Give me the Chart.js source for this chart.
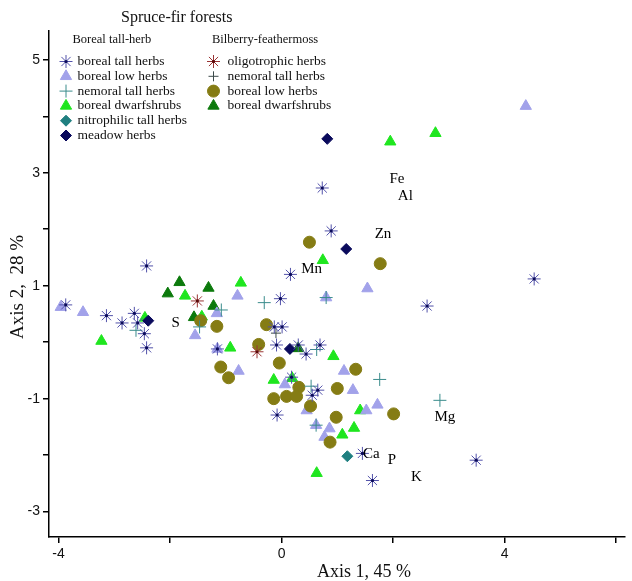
<!DOCTYPE html>
<html><head><meta charset="utf-8">
<script src="https://cdn.jsdelivr.net/npm/chart.js@4"></script>
<style>html,body{margin:0;padding:0;background:#fff}#wrap{width:632px;height:581px}</style>
</head><body><div id="wrap"><canvas id="c" width="632" height="581"></canvas></div>
<script>
// ---------- DATA ----------
const chartTitle = 'Spruce-fir forests';
const groupNames = ['Boreal tall-herb', 'Bilberry-feathermoss'];
const xTickLabels = [-4, 0, 4];
const yTickLabels = [-3, -1, 1, 3, 5];
const xAxisTitle = 'Axis 1, 45 %';
const yAxisTitle = 'Axis 2,  28 %';

// Boreal tall-herb group
const btTallHerbs = [[-3.87,0.66],[-3.14,0.47],[-2.86,0.34],[-2.64,0.51],[-2.58,0.34],[-2.46,0.15],[-2.42,1.35],[-2.42,-0.10],[0.16,1.20],[-0.02,0.77],[-0.13,0.27],[0.01,0.27],[-0.09,-0.05],[-1.15,-0.12],[0.30,-0.05],[0.44,-0.21],[0.69,-0.05],[0.18,-0.62],[0.65,-0.85],[0.55,-0.94],[-0.08,-1.29],[1.45,-1.97],[1.63,-2.45],[0.73,2.73],[0.89,1.97],[4.53,1.12],[2.61,0.64],[3.49,-2.09]];
const btLowHerbs = [[-3.96,0.62],[-3.56,0.53],[-0.79,0.82],[-1.16,0.51],[-1.55,0.12],[-1.15,-0.12],[-0.77,-0.51],[0.06,-0.75],[1.12,-0.51],[1.28,-0.85],[0.45,-1.21],[1.72,-1.11],[1.52,-1.21],[0.62,-1.47],[0.86,-1.53],[0.77,-1.68],[4.38,4.18],[1.54,0.95],[0.80,0.79]];
const btNemoral = [[-2.61,0.21],[-1.08,0.57],[-0.31,0.70],[0.63,-0.13],[1.76,-0.66],[0.53,-0.78],[0.62,-1.47],[2.84,-1.03],[0.80,0.79],[-1.47,0.27]];
const btDwarfshrubs = [[-3.23,0.02],[-2.45,0.43],[-1.73,0.82],[-1.43,0.45],[-0.73,1.05],[-0.92,-0.10],[-0.14,-0.67],[0.19,-0.64],[0.93,-0.25],[1.41,-1.21],[1.30,-1.52],[1.09,-1.64],[0.63,-2.32],[1.95,3.55],[2.76,3.70],[0.74,1.45]];
const btNitrophilic = [[1.18,-2.02]];
const btMeadow = [[-2.39,0.38],[0.15,-0.12],[0.82,3.60],[1.16,1.65]];
// Bilberry-feathermoss group
const bfOligotrophic = [[-1.51,0.73],[-0.44,-0.17]];
const bfNemoral = [[-0.10,0.16]];
const bfLowHerbs = [[-1.45,0.38],[-1.16,0.28],[-0.27,0.31],[-0.41,-0.04],[-1.09,-0.44],[-0.95,-0.63],[-0.04,-0.37],[1.33,-0.48],[0.31,-0.80],[1.00,-0.82],[-0.14,-1.00],[0.09,-0.96],[0.27,-0.96],[0.52,-1.13],[2.01,-1.27],[0.98,-1.33],[0.87,-1.77],[0.50,1.77],[1.77,1.39]];
const bfDwarfshrubs = [[-2.04,0.86],[-1.83,1.06],[-1.31,0.96],[-1.22,0.64],[-1.57,0.44],[0.30,-0.11]];

// Element labels
const elementNames = ['S','Mn','Zn','Fe','Al','Ca','P','K','Mg'];
const elementX = [-1.90, 0.54, 1.82, 2.07, 2.22, 1.61, 1.98, 2.42, 2.93];
const elementY = [0.33, 1.30, 1.91, 2.88, 2.58, -1.99, -2.08, -2.38, -1.32];

// ---------- STYLES ----------
const S = {
  tallStar:  {label:'boreal tall herbs', data:btTallHerbs, pointStyle:'star', radius:6.5, color:'#5252aa', fill:'#5252aa', bw:1, dot:'#0b0b5a', group:0, row:0},
  lowTri:    {label:'boreal low herbs', data:btLowHerbs, pointStyle:'triangle', radius:6.5, color:'#a2a2ea', fill:'#a2a2ea', bw:1, group:0, row:1},
  nemPlus:   {label:'nemoral tall herbs', data:btNemoral, pointStyle:'cross', radius:6.5, color:'#3a8c8c', fill:'#3a8c8c', bw:1, group:0, row:2},
  dwarfTri:  {label:'boreal dwarfshrubs', data:btDwarfshrubs, pointStyle:'triangle', radius:6.5, color:'#1fe61f', fill:'#1fe61f', bw:1, group:0, row:3},
  nitroDia:  {label:'nitrophilic tall herbs', data:btNitrophilic, pointStyle:'rectRot', radius:5.5, color:'#1f7f80', fill:'#1f7f80', bw:1, group:0, row:4},
  meadowDia: {label:'meadow herbs', data:btMeadow, pointStyle:'rectRot', radius:5.5, color:'#0a0a5c', fill:'#0a0a5c', bw:1, group:0, row:5},
  oligStar:  {label:'oligotrophic herbs', data:bfOligotrophic, pointStyle:'star', radius:6.5, color:'#9a3434', fill:'#9a3434', bw:1, dot:'#5a0a0a', group:1, row:0},
  bNemPlus:  {label:'nemoral tall herbs', data:bfNemoral, pointStyle:'cross', radius:5, color:'#3c4a4a', fill:'#3c4a4a', bw:1, group:1, row:1},
  bLowCirc:  {label:'boreal low herbs', data:bfLowHerbs, pointStyle:'circle', radius:6, color:'#857c14', fill:'#857c14', bw:1, group:1, row:2},
  bDwarfTri: {label:'boreal dwarfshrubs', data:bfDwarfshrubs, pointStyle:'triangle', radius:6.5, color:'#0c7a0c', fill:'#0c7a0c', bw:1, group:1, row:3}
};
// drawing order: first listed is drawn on top
const drawOrder = ['tallStar','oligStar','nemPlus','bNemPlus','meadowDia','nitroDia','bLowCirc','lowTri','bDwarfTri','dwarfTri'];

const toPts = a => a.map(([x, y]) => ({x, y}));
const datasets = [];
drawOrder.forEach(k => {
  const s = S[k];
  if (s.dot) {
    datasets.push({label: s.label + ' centre', data: toPts(s.data), pointStyle: 'circle', pointRadius: 1.6,
      backgroundColor: s.dot, borderColor: s.dot, borderWidth: 0, showLine: false});
  }
  datasets.push({label: s.label, data: toPts(s.data), pointStyle: s.pointStyle, pointRadius: s.radius,
    backgroundColor: s.fill, borderColor: s.color, borderWidth: s.bw, showLine: false});
});

const SERIF = '"Liberation Serif", "Times New Roman", serif';
const SANS = '"Liberation Sans", Arial, sans-serif';

function marker(ctx, s, x, y) {
  ctx.save();
  ctx.fillStyle = s.fill; ctx.strokeStyle = s.color; ctx.lineWidth = s.bw;
  Chart.helpers.drawPoint(ctx, {pointStyle: s.pointStyle, radius: s.radius, rotation: 0, borderWidth: s.bw}, x, y);
  if (s.dot) {
    ctx.fillStyle = s.dot; ctx.strokeStyle = s.dot;
    Chart.helpers.drawPoint(ctx, {pointStyle: 'circle', radius: 1.6, rotation: 0, borderWidth: 0}, x, y);
  }
  ctx.restore();
}

const annot = {
  id: 'annot',
  afterDatasetsDraw(chart) {
    const ctx = chart.ctx, xs = chart.scales.x, ys = chart.scales.y;
    ctx.save();
    ctx.fillStyle = '#000';
    ctx.font = '15px ' + SERIF;
    ctx.textAlign = 'center'; ctx.textBaseline = 'middle';
    elementNames.forEach((n, i) => ctx.fillText(n, xs.getPixelForValue(elementX[i]), ys.getPixelForValue(elementY[i])));
    ctx.restore();
  },
  afterDraw(chart) {
    const ctx = chart.ctx;
    ctx.save();
    ctx.fillStyle = '#111';
    ctx.textBaseline = 'middle'; ctx.textAlign = 'left';
    ctx.font = '16px ' + SERIF;
    ctx.fillText(chartTitle, 121, 18);
    ctx.font = '12.5px ' + SERIF;
    ctx.fillText(groupNames[0], 72.5, 40);
    ctx.fillText(groupNames[1], 212, 40);
    const colMarker = [66, 213.5], colText = [77.5, 227.5], rowY0 = 61.5, rowStep = 14.8;
    ctx.font = '13.5px ' + SERIF;
    Object.values(S).forEach(s => {
      const y = rowY0 + s.row * rowStep;
      marker(ctx, s, colMarker[s.group], y);
      ctx.fillStyle = '#111';
      ctx.fillText(s.label, colText[s.group], y);
    });
    // axis titles
    ctx.textAlign = 'center';
    ctx.font = '18px ' + SERIF;
    ctx.fillText(xAxisTitle, 364, 572);
    ctx.translate(18, 287);
    ctx.rotate(-Math.PI / 2);
    ctx.font = '19px ' + SERIF;
    ctx.fillText(yAxisTitle, 0, 0);
    ctx.restore();
  }
};

new Chart(document.getElementById('c'), {
  type: 'scatter',
  data: {datasets},
  options: {
    responsive: false, animation: false, devicePixelRatio: 1,
    layout: {padding: {top: 31, right: 1, left: 0, bottom: 0}},
    plugins: {legend: {display: false}, tooltip: {enabled: false}, title: {display: false}},
    scales: {
      x: {
        type: 'linear', min: -4.17, max: 6.15,
        border: {display: true, color: '#000', width: 1.5},
        grid: {display: true, drawOnChartArea: false, drawTicks: true, tickLength: 6, color: '#000', lineWidth: 1.5},
        ticks: {stepSize: 2, includeBounds: false, autoSkip: false, maxRotation: 0, padding: 3, color: '#111',
          font: {family: SANS, size: 14},
          callback: v => xTickLabels.includes(v) ? String(v) : ''},
        afterFit: s => { s.height = 44; }
      },
      y: {
        type: 'linear', min: -3.45, max: 5.51,
        border: {display: true, color: '#000', width: 1.5},
        grid: {display: true, drawOnChartArea: false, drawTicks: true, tickLength: 6, color: '#000', lineWidth: 1.5},
        ticks: {stepSize: 1, includeBounds: false, autoSkip: false, padding: 3, color: '#111',
          font: {family: SANS, size: 14},
          callback: v => yTickLabels.includes(v) ? String(v) : ''},
        afterFit: s => { s.width = 49; }
      }
    }
  },
  plugins: [annot]
});
</script></body></html>
